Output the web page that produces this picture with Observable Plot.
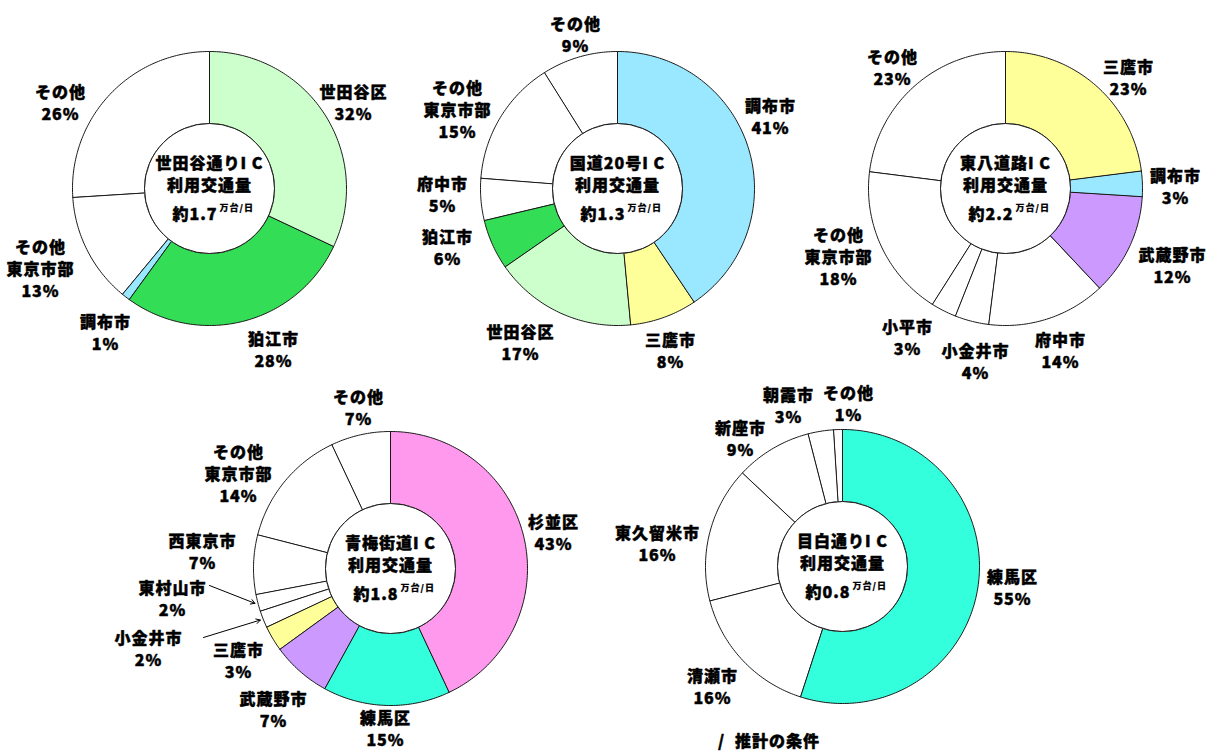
<!DOCTYPE html>
<html>
<head>
<meta charset="utf-8">
<script src="https://cdn.jsdelivr.net/npm/d3@7"></script>
<script src="https://cdn.jsdelivr.net/npm/@observablehq/plot@0.6"></script>
<style>
  html, body { margin: 0; padding: 0; background: #fff; overflow: hidden; }
  #chart svg { display: block; }
</style>
</head>
<body>
<div id="chart"></div>
<script>
// ---------- data ----------
const icNames   = ["世田谷通りIC", "国道20号IC", "東八道路IC", "青梅街道IC", "目白通りIC"];
const icVolumes = [1.7, 1.3, 2.2, 1.8, 0.8];   // 万台/日

const setagayaNames  = ["世田谷区", "狛江市", "調布市", "その他東京市部", "その他"];
const setagayaValues = [32, 28, 1, 13, 26];

const kokudoNames  = ["調布市", "三鷹市", "世田谷区", "狛江市", "府中市", "その他東京市部", "その他"];
const kokudoValues = [41, 8, 17, 6, 5, 15, 9];

const tohachiNames  = ["三鷹市", "調布市", "武蔵野市", "府中市", "小金井市", "小平市", "その他東京市部", "その他"];
const tohachiValues = [23, 3, 12, 14, 4, 3, 18, 23];

const omeNames  = ["杉並区", "練馬区", "武蔵野市", "三鷹市", "小金井市", "東村山市", "西東京市", "その他東京市部", "その他"];
const omeValues = [43, 15, 7, 3, 2, 2, 7, 14, 7];

const mejiroNames  = ["練馬区", "清瀬市", "東久留米市", "新座市", "朝霞市", "その他"];
const mejiroValues = [55, 16, 16, 9, 3, 1];

const footNote = "推計の条件";

// ---------- styles / layout ----------
const sliceColor = {
  "世田谷区": "#ccffcc",
  "狛江市": "#33dd55",
  "調布市": "#99e8ff",
  "三鷹市": "#ffff99",
  "武蔵野市": "#cc99ff",
  "杉並区": "#ff99ee",
  "練馬区": "#33ffdd"
};
const R = 137, r0 = 65;
const centers = [[209, 188], [617, 188], [1005, 188], [390, 568], [842, 566]];
const labelPos = [
  [[353, 101], [273, 348], [105, 331], [40, 267], [60, 101]],
  [[770, 115], [670, 349], [520, 341], [447, 246], [442, 193], [457, 108], [575, 33]],
  [[1128, 76], [1175, 185], [1172, 264], [1060, 349], [975, 360], [907, 336], [838, 255], [892, 66]],
  [[553, 531], [385, 727], [273, 708], [238, 659], [148, 647], [172, 597], [202, 550], [238, 472], [358, 406]],
  [[1012, 586], [712, 685], [657, 542], [740, 437], [788, 404], [848, 402]]
];
// labels that point to their slice with an arrow: [donut, slice, arrow start]
const arrowLabels = [[3, 5, [209, 585]], [3, 4, [203, 637]]];

// ---------- build ----------
const groups = [
  [setagayaNames, setagayaValues],
  [kokudoNames, kokudoValues],
  [tohachiNames, tohachiValues],
  [omeNames, omeValues],
  [mejiroNames, mejiroValues]
];

const polys = [];
const labels = [];
const arcsAll = [];
groups.forEach(([names, values], gi) => {
  const [cx, cy] = centers[gi];
  const arcs = d3.pie().sort(null).value(d => d)(values);
  arcsAll.push(arcs);
  arcs.forEach((a, i) => {
    const key = gi + "-" + i;
    const color = sliceColor[names[i]] || "#ffffff";
    const steps = Math.max(2, Math.ceil((a.endAngle - a.startAngle) / (Math.PI / 180)));
    for (let s = 0; s <= steps; s++) {
      const t = a.startAngle + (a.endAngle - a.startAngle) * s / steps;
      polys.push({key, color, x: cx + R * Math.sin(t), y: cy - R * Math.cos(t)});
    }
    for (let s = steps; s >= 0; s--) {
      const t = a.startAngle + (a.endAngle - a.startAngle) * s / steps;
      polys.push({key, color, x: cx + r0 * Math.sin(t), y: cy - r0 * Math.cos(t)});
    }
    const nm = names[i].startsWith("その他") && names[i].length > 3
      ? "その他\n" + names[i].slice(3) : names[i];
    const [lx, ly] = labelPos[gi][i];
    labels.push({x: lx, y: ly, text: nm + "\n" + values[i] + "%"});
  });
});

const arrows = arrowLabels.map(([gi, si, [x1, y1]]) => {
  const a = arcsAll[gi][si];
  const m = (a.startAngle + a.endAngle) / 2;
  const [cx, cy] = centers[gi];
  return {x1, y1, x2: cx + (R + 3) * Math.sin(m), y2: cy - (R + 3) * Math.cos(m)};
});

const centerInfo = centers.map(([cx, cy], i) => ({
  cx, cy, name: icNames[i].replace("IC", "I C"), vol: "約" + icVolumes[i].toFixed(1)
}));

const font = "'Noto Sans CJK JP', 'Noto Sans', sans-serif";
const heavy = {fontWeight: 900, fill: "#000", stroke: "#000", strokeWidth: 0.45};

const chart = Plot.plot({
  width: 1212,
  height: 751,
  margin: 0,
  x: {domain: [0, 1212], range: [0, 1212], axis: null},
  y: {domain: [0, 751], range: [0, 751], axis: null},
  color: {type: "identity"},
  style: {fontFamily: font, background: "#fff", letterSpacing: "1px"},
  marks: [
    Plot.line(polys, {x: "x", y: "y", z: "key", fill: "color", stroke: "#1a1a1a", strokeWidth: 1, curve: "linear-closed"}),
    Plot.dot(centerInfo, {x: "cx", y: "cy", r: r0, fill: "#fff", stroke: "#1a1a1a", strokeWidth: 1}),
    Plot.text(centerInfo, {x: "cx", y: d => d.cy - 25, text: "name", fontSize: 16, ...heavy}),
    Plot.text(centerInfo, {x: "cx", y: d => d.cy - 3, text: () => "利用交通量", fontSize: 16, ...heavy}),
    Plot.text(centerInfo, {x: d => d.cx + 8, y: d => d.cy + 26, text: "vol", textAnchor: "end", fontSize: 16, ...heavy}),
    Plot.text(centerInfo, {x: d => d.cx + 10, y: d => d.cy + 20, text: () => "万台/日", textAnchor: "start", fontSize: 9, fontWeight: 900, fill: "#000", stroke: "#000", strokeWidth: 0.2}),
    Plot.text(labels, {x: "x", y: "y", text: "text", fontSize: 16, lineHeight: 1.38, ...heavy}),
    Plot.arrow(arrows, {x1: "x1", y1: "y1", x2: "x2", y2: "y2", stroke: "#000", strokeWidth: 1, headLength: 7}),
    Plot.text([footNote], {x: () => 777, y: () => 741, text: d => d, fontSize: 16, ...heavy}),
    Plot.text(["/"], {x: () => 721, y: () => 741, text: d => d, fontSize: 16, ...heavy})
  ]
});
document.getElementById("chart").append(chart);
</script>
</body>
</html>
